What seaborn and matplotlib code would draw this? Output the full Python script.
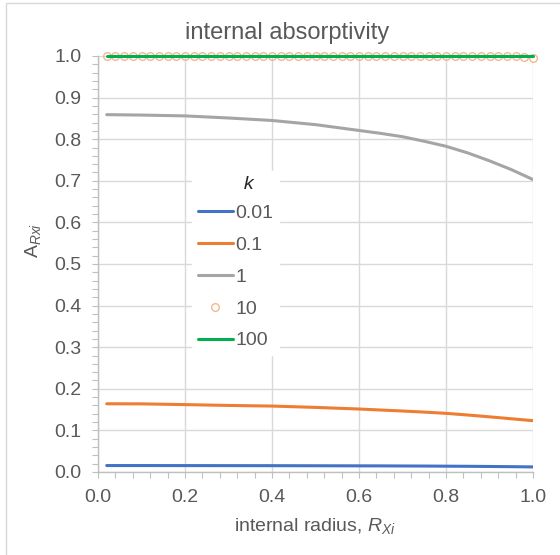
from matplotlib import pyplot as plt
from matplotlib.patches import Rectangle
import seaborn as sns

# radius grid for the smooth curves
radius_line = [0.02, 0.1, 0.2, 0.3, 0.4, 0.5, 0.6, 0.65, 0.7, 0.75, 0.8, 0.85, 0.9, 0.95, 1.0]
a_k001 = [0.0155, 0.0155, 0.0154, 0.0153, 0.0152, 0.0150, 0.0148, 0.0147, 0.0145,
          0.0143, 0.0140, 0.0137, 0.0133, 0.0128, 0.0122]
a_k01 = [0.164, 0.1638, 0.162, 0.160, 0.1585, 0.1553, 0.1514, 0.149, 0.1466,
         0.144, 0.141, 0.137, 0.1326, 0.128, 0.1234]
a_k1 = [0.859, 0.858, 0.856, 0.851, 0.845, 0.835, 0.821, 0.814, 0.806,
        0.795, 0.783, 0.767, 0.748, 0.727, 0.703]

# full radius grid (markers for k=10, line for k=100)
radius = [0.02, 0.04, 0.06, 0.08, 0.10, 0.12, 0.14, 0.16, 0.18, 0.20,
          0.22, 0.24, 0.26, 0.28, 0.30, 0.32, 0.34, 0.36, 0.38, 0.40,
          0.42, 0.44, 0.46, 0.48, 0.50, 0.52, 0.54, 0.56, 0.58, 0.60,
          0.62, 0.64, 0.66, 0.68, 0.70, 0.72, 0.74, 0.76, 0.78, 0.80,
          0.82, 0.84, 0.86, 0.88, 0.90, 0.92, 0.94, 0.96, 0.98, 1.00]
a_k10 = [1.0] * 47 + [0.999, 0.998, 0.996]
a_k100 = [1.0] * 50

k_labels = ["0.01", "0.1", "1", "10", "100"]
colors = ["#4472C4", "#ED7D31", "#A5A5A5", "#F4B183", "#00B050"]

sns.set_style("whitegrid")
plt.rcParams["font.family"] = ["Liberation Sans", "DejaVu Sans"]
plt.rcParams["mathtext.fontset"] = "custom"
plt.rcParams["mathtext.rm"] = "Liberation Sans"
plt.rcParams["mathtext.it"] = "Liberation Sans:italic"

txt = "#595959"
fig = plt.figure(figsize=(5.6, 5.55), dpi=100)
ax = fig.add_axes([98 / 560, 1 - 472 / 555, 435 / 560, 416 / 555])

sns.lineplot(x=radius_line, y=a_k001, ax=ax, color=colors[0], lw=2.2, label=k_labels[0])
sns.lineplot(x=radius_line, y=a_k01, ax=ax, color=colors[1], lw=2.2, label=k_labels[1])
sns.lineplot(x=radius_line, y=a_k1, ax=ax, color=colors[2], lw=2.2, label=k_labels[2])
sns.lineplot(x=radius, y=a_k10, ax=ax, color=colors[3], linestyle="", marker="o",
             markersize=5.5, markerfacecolor="none", markeredgecolor=colors[3],
             markeredgewidth=0.9, label=k_labels[3], clip_on=False, zorder=3)
sns.lineplot(x=radius, y=a_k100, ax=ax, color=colors[4], lw=2.2, label=k_labels[4],
             clip_on=False, zorder=4)

ax.set_xlim(0, 1.0)
ax.set_ylim(0, 1.0)
ax.set_xticks([0, 0.2, 0.4, 0.6, 0.8, 1.0])
ax.set_yticks([i / 10 for i in range(11)])
ax.set_xticks([i * 0.04 for i in range(26)], minor=True)
ax.set_yticks([i * 0.02 for i in range(51)], minor=True)
ax.xaxis.set_major_formatter(plt.FormatStrFormatter("%.1f"))
ax.yaxis.set_major_formatter(plt.FormatStrFormatter("%.1f"))
ax.tick_params(which="both", direction="out", length=4, width=0.8, color="#BFBFBF",
               labelsize=14, labelcolor=txt, pad=8, left=True, bottom=True)
ax.grid(True, which="major", color="#D9D9D9", lw=1)
ax.grid(False, which="minor")
for s in ["top", "right"]:
    ax.spines[s].set_visible(False)
for s in ["left", "bottom"]:
    ax.spines[s].set_color("#BFBFBF")
    ax.spines[s].set_linewidth(1)
ax.set_xlabel("")
ax.set_ylabel("")

handles, labels = ax.get_legend_handles_labels()
# leading spaces push the italic k to the right like in the original legend
leg = ax.legend(handles, labels, title="     k", loc="upper left",
                bbox_to_anchor=(0.193, 0.748), fontsize=14, handlelength=1.8,
                handletextpad=0.15, labelspacing=0.73, borderpad=0.3,
                frameon=True, facecolor="white", edgecolor="white", framealpha=1,
                fancybox=False, title_fontproperties={"size": 14, "style": "italic"})
leg._legend_box.sep = 8.0  # tighter gap between title and first entry
leg.set_zorder(5)
for t in leg.get_texts():
    t.set_color(txt)

fig.text(287 / 560, 1 - 33 / 555, "internal absorptivity", ha="center", va="center",
         fontsize=17, color=txt)
fig.text(315 / 560, 1 - 526 / 555, r"internal radius, $\mathit{R}_{\mathit{Xi}}$",
         ha="center", va="center", fontsize=14, color=txt)
fig.text(33 / 560, 1 - 240 / 555, r"$\mathrm{A}_{\mathit{Rxi}}$", ha="center",
         va="center", rotation=90, fontsize=14, color=txt)

# chart frame (cut off at right and bottom)
fig.add_artist(Rectangle((6 / 560, -0.1), 1.2, 1.1 - 3.5 / 555, transform=fig.transFigure,
                         fill=False, edgecolor="#D9D9D9", lw=1))

fig.savefig("out.png", dpi=100)
